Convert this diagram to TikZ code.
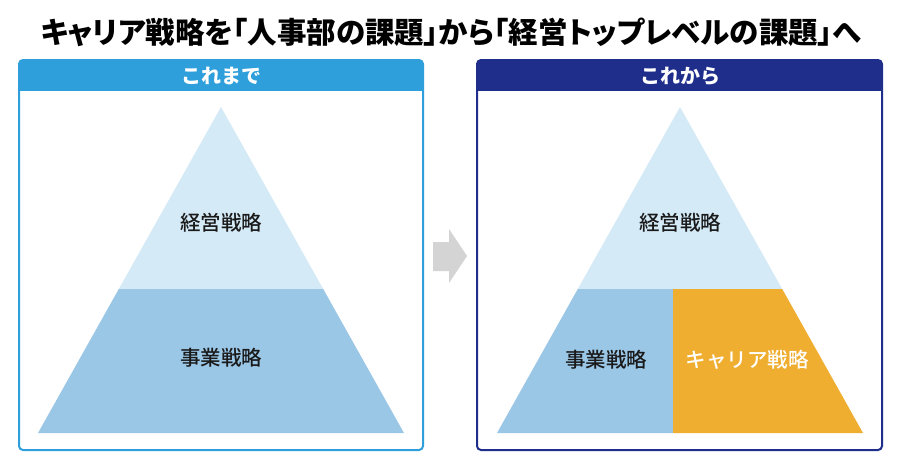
\documentclass[tikz,border=0pt]{standalone}
\usepackage{fontspec}
\setmainfont{Noto Sans CJK JP}
\newfontfamily\titlefont{Noto Sans CJK JP}[RawFeature=+palt]
\newfontfamily\medfont{Noto Sans CJK JP Medium}
\definecolor{leftc}{HTML}{2E9FDB}
\definecolor{navy}{HTML}{1E2E8A}
\definecolor{lightb}{HTML}{D4EAF7}
\definecolor{midb}{HTML}{9BC7E7}
\definecolor{orng}{HTML}{EFAE2F}
\definecolor{grayarrow}{HTML}{D4D4D4}
\definecolor{ink}{HTML}{1A1A1A}
\tikzset{
  paneltitle/.style={font=\bfseries\fontsize{20}{20}\selectfont, text=white, inner sep=0pt},
  label/.style={font=\medfont\fontsize{20.5}{20.5}\selectfont, text=ink, inner sep=0pt},
  maintitle/.style={font=\titlefont\bfseries\fontsize{29.5}{29.5}\selectfont, text=black, inner sep=0pt},
}
\begin{document}
\begin{tikzpicture}[x=1pt,y=-1pt]
\useasboundingbox (0,0) rectangle (900,464);
\fill[white] (0,0) rectangle (900,464);
% title
\node[maintitle] (title) at (451,32) {キャリア戦略を「人事部の課題」から「経営トップレベルの課題」へ};
% left panel
\begin{scope}
\clip[rounded corners=4pt] (19,60) rectangle (423,450);
\fill[leftc] (19,60) rectangle (423,91);
\end{scope}
\draw[leftc, line width=2pt, rounded corners=4pt] (19,60) rectangle (423,450);
\node[paneltitle] (lhead) at (221,76) {これまで};
% left pyramid
\coordinate (la) at (221,107);
\coordinate (lbl) at (38,433);
\coordinate (lbr) at (404,433);
\coordinate (lml) at (118.8,289);
\coordinate (lmr) at (323.2,289);
\fill[lightb] (la) -- (lmr) -- (lml) -- cycle;
\fill[midb] (lml) -- (lmr) -- (lbr) -- (lbl) -- cycle;
\node[label] (l1) at (221,223) {経営戦略};
\node[label] (l2) at (221,358) {事業戦略};
% right panel
\begin{scope}
\clip[rounded corners=4pt] (477,60) rectangle (882,450);
\fill[navy] (477,60) rectangle (882,91);
\end{scope}
\draw[navy, line width=2pt, rounded corners=4pt] (477,60) rectangle (882,450);
\node[paneltitle] (rhead) at (680,76) {これから};
% right pyramid
\coordinate (ra) at (680,107);
\coordinate (rbl) at (497,433);
\coordinate (rbr) at (863,433);
\coordinate (rml) at (577.8,289);
\coordinate (rmr) at (782.2,289);
\coordinate (rsm) at (673,289);
\coordinate (rsb) at (673,433);
\fill[lightb] (ra) -- (rmr) -- (rml) -- cycle;
\fill[midb] (rml) -- (rsm) -- (rsb) -- (rbl) -- cycle;
\fill[orng] (rsm) -- (rmr) -- (rbr) -- (rsb) -- cycle;
\node[label] (r1) at (680,223) {経営戦略};
\node[label] (r2) at (606,360) {事業戦略};
\node[label, text=white] (r3) at (747,360) {キャリア戦略};
% arrow
\fill[grayarrow] (433,242) -- (449,242) -- (449,229) -- (467,256) -- (449,283) -- (449,271) -- (433,271) -- cycle;
\end{tikzpicture}
\end{document}
